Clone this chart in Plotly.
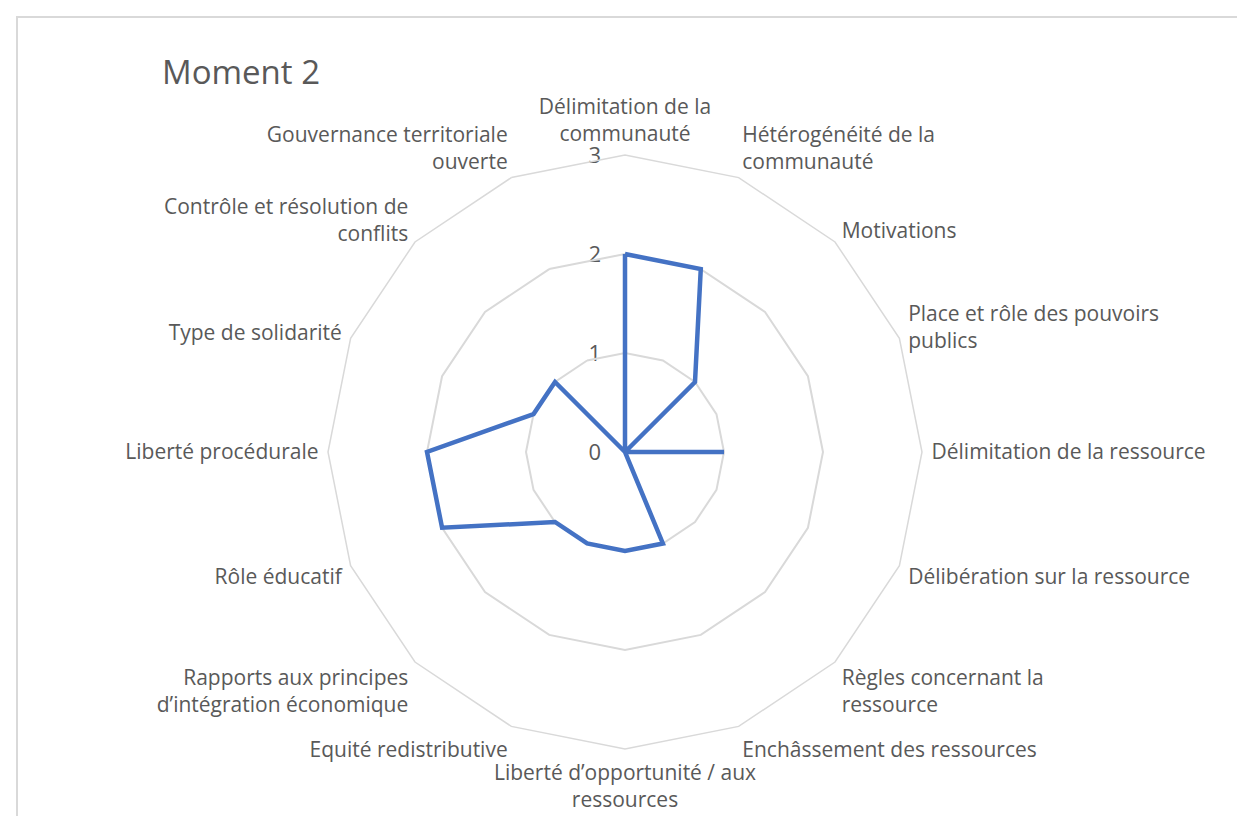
import plotly.graph_objects as go

categories = [
    "Délimitation de la communauté",
    "Hétérogénéité de la communauté",
    "Motivations",
    "Place et rôle des pouvoirs publics",
    "Délimitation de la ressource",
    "Délibération sur la ressource",
    "Règles concernant la ressource",
    "Enchâssement des ressources",
    "Liberté d’opportunité / aux ressources",
    "Equité redistributive",
    "Rapports aux principes d’intégration économique",
    "Rôle éducatif",
    "Liberté procédurale",
    "Type de solidarité",
    "Contrôle et résolution de conflits",
    "Gouvernance territoriale ouverte",
]
labels = [
    "Délimitation de la<br>communauté",
    "Hétérogénéité de la<br>communauté",
    "Motivations",
    "Place et rôle des pouvoirs<br>publics",
    "Délimitation de la ressource",
    "Délibération sur la ressource",
    "Règles concernant la<br>ressource",
    "Enchâssement des ressources",
    "Liberté d’opportunité / aux<br>ressources",
    "Equité redistributive",
    "Rapports aux principes<br>d’intégration économique",
    "Rôle éducatif",
    "Liberté procédurale",
    "Type de solidarité",
    "Contrôle et résolution de<br>conflits",
    "Gouvernance territoriale<br>ouverte",
]
values = [2, 2, 1, 0, 1, 0, 0, 1, 1, 1, 1, 2, 2, 1, 1, 0]
radial_ticks = [0, 1, 2, 3]

grey_text = "#595959"
grid = "#D9D9D9"
font = "Open Sans"
W, H = 1245, 816


def dom(pad):
    # square polar domain around the chart centre, grown by pad pixels
    return dict(x=[(320 - pad) / W, (914 + pad) / W],
                y=[1 - (741 + pad) / H, 1 - (147 - pad) / H])


fig = go.Figure()
# data polygon
fig.add_trace(go.Scatterpolar(
    r=values + values[:1],
    theta=categories + categories[:1],
    mode="lines",
    line=dict(color="#4472C4", width=4.5),
    showlegend=False, subplot="polar",
))
# invisible carrier so the slightly larger label ring is drawn
fig.add_trace(go.Scatterpolar(
    r=values, theta=categories, mode="lines", opacity=0,
    showlegend=False, hoverinfo="skip", subplot="polar2",
))
# invisible carrier for a cartesian y axis that carries the 0-3 scale labels
fig.add_trace(go.Scatter(
    x=[0] * len(radial_ticks), y=radial_ticks, mode="markers",
    marker=dict(opacity=0), showlegend=False, hoverinfo="skip",
))

d0 = dom(0)
fig.update_layout(
    width=W, height=H,
    margin=dict(l=0, r=0, t=0, b=0, autoexpand=False),
    paper_bgcolor="white",
    plot_bgcolor="rgba(0,0,0,0)",
    font=dict(family=font, size=21, color=grey_text),
    xaxis=dict(domain=d0["x"], range=[-3, 3], visible=False,
               fixedrange=True, automargin=False),
    yaxis=dict(
        domain=d0["y"], range=[-3, 3], tickvals=radial_ticks,
        anchor="free", position=624 / W, side="left",
        showgrid=False, zeroline=False, showline=False, ticks="",
        ticklabelstandoff=31, fixedrange=True, automargin=False,
        tickfont=dict(size=22, color=grey_text),
    ),
    polar2=dict(
        domain=dom(9),
        bgcolor="rgba(0,0,0,0)",
        gridshape="linear",
        angularaxis=dict(
            direction="clockwise", rotation=90,
            categoryorder="array", categoryarray=categories,
            tickmode="array", tickvals=categories, ticktext=labels,
            showgrid=False, showline=False, ticks="",
            tickfont=dict(size=21, color=grey_text),
        ),
        radialaxis=dict(range=[0, 3], visible=False, showgrid=False),
    ),
    polar=dict(
        domain=d0,
        bgcolor="rgba(0,0,0,0)",
        gridshape="linear",
        angularaxis=dict(
            direction="clockwise", rotation=90,
            categoryorder="array", categoryarray=categories,
            showticklabels=False,
            showgrid=False, showline=True, linecolor=grid, linewidth=1.5,
            ticks="",
        ),
        radialaxis=dict(
            range=[0, 3], tickvals=radial_ticks[1:], angle=90,
            showticklabels=False,
            showline=False, ticks="", gridcolor=grid, gridwidth=1.5,
        ),
    ),
    annotations=[dict(
        text="Moment 2", x=152 / W, y=1 - 64 / H, xref="paper", yref="paper",
        xanchor="left", yanchor="middle", showarrow=False,
        font=dict(size=33, color=grey_text, family=font),
    )],
    shapes=[dict(
        type="rect", xref="paper", yref="paper",
        x0=9 / W, x1=1237 / W, y0=-0.05, y1=1 - 9 / H,
        line=dict(color=grid, width=2),
    )],
)

fig.write_html("out.html")
